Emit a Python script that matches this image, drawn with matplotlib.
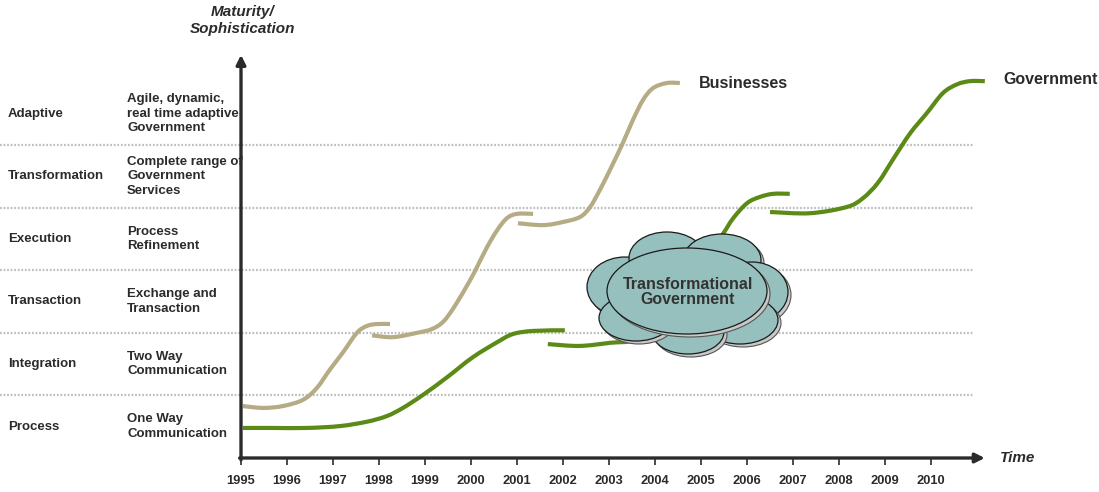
import matplotlib
matplotlib.use("Agg")
import numpy as np
import matplotlib.pyplot as plt
from matplotlib.patches import Ellipse, PathPatch
from matplotlib.path import Path
from matplotlib.transforms import blended_transform_factory

plt.rcParams['font.family'] = ['Liberation Sans', 'DejaVu Sans']

# Maturity stages (bottom to top) and what each one means
stages = ["Process", "Integration", "Transaction", "Execution", "Transformation", "Adaptive"]
stage_notes = ["One Way\nCommunication", "Two Way\nCommunication", "Exchange and\nTransaction",
               "Process\nRefinement", "Complete range of\nGovernment\nServices",
               "Agile, dynamic,\nreal time adaptive\nGovernment"]
years = list(range(1995, 2011))

# Businesses: three S-shaped waves
bus_x1 = [1995.04, 1995.48, 1995.91, 1996.35, 1996.65, 1996.93, 1997.22, 1997.52, 1997.74, 1997.96, 1998.24]
bus_y1 = [0.83, 0.80, 0.83, 0.93, 1.12, 1.41, 1.69, 2.00, 2.11, 2.14, 2.14]
bus_x2 = [1997.85, 1998.30, 1998.83, 1999.15, 1999.40, 1999.65, 1999.98, 2000.13, 2000.35,
          2000.57, 2000.78, 2001.00, 2001.35]
bus_y2 = [1.96, 1.93, 2.00, 2.06, 2.18, 2.43, 2.84, 3.05, 3.37, 3.64, 3.83, 3.90, 3.90]
bus_x3 = [2001.02, 2001.57, 2002.00, 2002.37, 2002.59, 2002.80, 2003.02, 2003.30, 2003.52, 2003.74,
          2003.96, 2004.26, 2004.54]
bus_y3 = [3.75, 3.72, 3.77, 3.85, 4.01, 4.28, 4.60, 5.03, 5.40, 5.72, 5.91, 5.99, 5.99]

# Government: three S-shaped waves
gov_x1 = [1995.04, 1995.70, 1996.43, 1997.15, 1997.74, 1998.17, 1998.52, 1998.96, 1999.48, 2000.04,
          2000.57, 2000.91, 2001.35, 2002.04]
gov_y1 = [0.48, 0.48, 0.48, 0.51, 0.58, 0.67, 0.80, 1.01, 1.29, 1.61, 1.85, 1.98, 2.03, 2.04]
gov_x2 = [2001.67, 2002.35, 2003.02, 2003.57, 2004.22, 2004.87, 2005.46, 2005.70, 2006.00, 2006.28,
          2006.57, 2006.93]
gov_y2 = [1.82, 1.79, 1.84, 1.90, 2.28, 2.92, 3.56, 3.83, 4.07, 4.17, 4.22, 4.22]
gov_x3 = [2006.50, 2007.37, 2008.17, 2008.52, 2008.85, 2009.20, 2009.55, 2009.91, 2010.26, 2010.57,
          2010.85, 2011.17]
gov_y3 = [3.93, 3.91, 4.01, 4.15, 4.40, 4.80, 5.19, 5.51, 5.83, 5.97, 6.02, 6.02]

tan = '#B5AB84'
green = '#5B8A16'
ink = '#2B2B2B'
cloud_fill = '#96C0BD'

fig = plt.figure(figsize=(10.99, 4.92), dpi=100)
ax = fig.add_axes([0, 0, 1, 1])
ax.set_xlim(1989.761, 2013.652)
ax.set_ylim(-0.543, 7.316)
ax.axis('off')

# px helpers for the cloud shape (46 px per year, 62.6 px per stage)
sx, sy = 46.0, 62.6
def to_data(px, py):
    return 1995 + (px - 241) / sx, (458 - py) / sy


def smooth_path(x, y):
    # bezier path through the points (catmull-rom tangents, in pixel space)
    p = np.column_stack([np.asarray(x) * sx, np.asarray(y) * sy])
    verts = [p[0]]
    codes = [Path.MOVETO]
    for i in range(len(p) - 1):
        p0 = p[i - 1] if i > 0 else p[i]
        p3 = p[i + 2] if i + 2 < len(p) else p[i + 1]
        c1 = p[i] + (p[i + 1] - p0) / 6
        c2 = p[i + 1] - (p3 - p[i]) / 6
        verts += [c1, c2, p[i + 1]]
        codes += [Path.CURVE4] * 3
    verts = np.array(verts) / [sx, sy]
    return Path(verts, codes)


# dotted stage separators
ax.hlines(range(1, len(stages)), 1989.761, 2010.91, colors='#BEBEBE', lw=1.6,
          linestyles=(0, (0.8, 0.8)), zorder=1)

# stage names and descriptions
lbl = blended_transform_factory(ax.transAxes, ax.transData)
for i, (name, note) in enumerate(zip(stages, stage_notes)):
    ax.text(8 / 1099, i + 0.5, name, transform=lbl, ha='left', va='center',
            fontsize=9.5, fontweight='bold', color=ink)
    ax.text(127 / 1099, i + 0.5, note, transform=lbl, ha='left', va='center',
            fontsize=9.5, fontweight='bold', color=ink, linespacing=1.3)

# curves
for x, y in [(bus_x1, bus_y1), (bus_x2, bus_y2), (bus_x3, bus_y3)]:
    ax.add_patch(PathPatch(smooth_path(x, y), facecolor='none', edgecolor=tan, lw=3,
                           capstyle='butt', zorder=3))
for x, y in [(gov_x1, gov_y1), (gov_x2, gov_y2), (gov_x3, gov_y3)]:
    ax.add_patch(PathPatch(smooth_path(x, y), facecolor='none', edgecolor=green, lw=3,
                           capstyle='butt', zorder=3))

# cloud: puffs with a grey drop shadow, big oval on top
puffs = [(625, 287, 76, 60), (667, 258, 76, 52), (722, 260, 78, 52), (752, 292, 72, 60),
         (740, 320, 76, 48), (688, 332, 72, 44), (636, 318, 74, 46), (687, 291, 160, 86)]
z = 5
for cx, cy, w, h in puffs:
    x0, y0 = to_data(cx + 3, cy + 3)
    ax.add_patch(Ellipse((x0, y0), w / sx, h / sy, facecolor='#C8C8C8', edgecolor='#555555',
                         lw=0.8, zorder=z))
    x0, y0 = to_data(cx, cy)
    ax.add_patch(Ellipse((x0, y0), w / sx, h / sy, facecolor=cloud_fill, edgecolor='#1A1A1A',
                         lw=0.9, zorder=z + 1))
    z += 2
tx, ty = to_data(688, 292)
ax.text(tx, ty, "Transformational\nGovernment", ha='center', va='center', fontsize=11.5,
        fontweight='bold', color='#333333', linespacing=1.05, zorder=z)

# axes with arrow heads
ax.annotate('', xy=(1995, 6.44), xytext=(1995, -0.03),
            arrowprops=dict(arrowstyle='-|>', lw=2.4, color=ink, mutation_scale=14,
                            shrinkA=0, shrinkB=0), zorder=4)
ax.annotate('', xy=(2011.17, 0), xytext=(1994.97, 0),
            arrowprops=dict(arrowstyle='-|>', lw=2.4, color=ink, mutation_scale=14,
                            shrinkA=0, shrinkB=0), zorder=4)
ax.vlines(years, -0.11, 0, colors=ink, lw=1.2, zorder=4)
for yr in years:
    ax.text(yr, -0.37, str(yr), ha='center', va='center', fontsize=9.3, fontweight='bold', color=ink)

ax.text(2011.5, 0.0, "Time", ha='left', va='center', fontsize=11, fontweight='bold',
        fontstyle='italic', color=ink)
ax.text(1995.04, 6.99, "Maturity/\nSophistication", ha='center', va='center', fontsize=11,
        fontweight='bold', fontstyle='italic', color=ink, linespacing=1.25)
ax.text(2004.96, 5.99, "Businesses", ha='left', va='center', fontsize=11.5, fontweight='bold', color=ink)
ax.text(2011.57, 6.04, "Government", ha='left', va='center', fontsize=11.5, fontweight='bold', color=ink)

fig.savefig('out.png', dpi=100)
